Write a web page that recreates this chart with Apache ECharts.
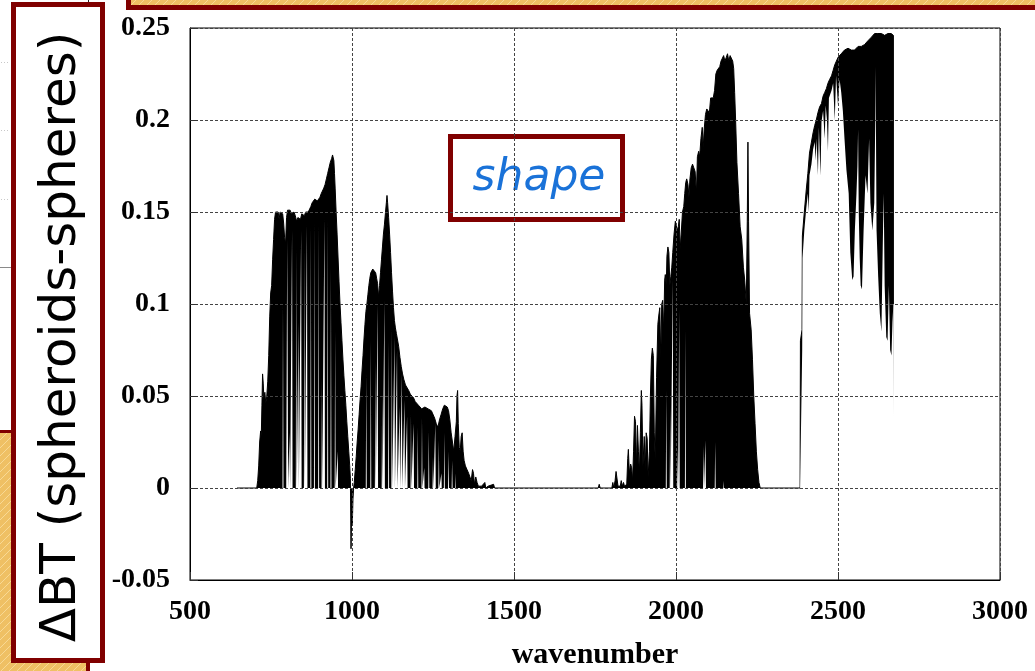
<!DOCTYPE html>
<html>
<head>
<meta charset="utf-8">
<script src="https://cdn.jsdelivr.net/npm/echarts@6/dist/echarts.min.js"></script>
<style>
  html, body { margin: 0; padding: 0; background: #fff; }
  #chart { width: 1035px; height: 671px; }
</style>
</head>
<body>
<div id="chart"></div>
<script>
// Brightness-temperature difference (spheroids minus spheres) across the infrared spectrum.

const xMin = 500, xMax = 3000, xStep = 500;
const yMin = -0.05, yMax = 0.25, yStep = 0.05;
const xTicks = ['500', '1000', '1500', '2000', '2500', '3000'];
const yTicks = ['-0.05', '0', '0.05', '0.1', '0.15', '0.2', '0.25'];

// Upper edge of the trace, [wavenumber, ΔBT]
const band1Upper = [
  [645,0],[706,0],[709,0.004],[712,0.012],[715,0.025],[718,0.031],[720,0.028],[722,0.045],[724,0.062],[726,0.057],
  [728,0.049],[731,0.052],[734,0.046],[737,0.05],[740,0.058],[743,0.072],[746,0.093],[749,0.106],[752,0.11],[755,0.124],
  [758,0.135],[761,0.146],[764,0.15],[768,0.151],[772,0.15],[775,0.146],[778,0.15],[782,0.151],[786,0.149],[789,0.144],
  [792,0.136],[795,0.133],[798,0.147],[801,0.151],[805,0.152],[809,0.151],[813,0.149],[817,0.148],[821,0.15],[825,0.148],
  [829,0.145],[833,0.147],[837,0.148],[841,0.146],[845,0.149],[849,0.15],[853,0.148],[857,0.15],[861,0.149],[865,0.15],
  [869,0.151],[873,0.153],[877,0.155],[881,0.154],[885,0.157],[889,0.157],[893,0.156],[897,0.157],[901,0.158],[905,0.16],
  [909,0.161],[913,0.163],[917,0.165],[921,0.168],[925,0.171],[929,0.174],[933,0.177],[937,0.179],[940,0.181],[942,0.182],
  [944,0.178],[946,0.171],[948,0.163],[951,0.15],[954,0.138],[957,0.125],[960,0.112],[963,0.1],[966,0.09],[969,0.08],
  [972,0.07],[975,0.061],[978,0.053],[981,0.045],[984,0.036],[987,0.028],[990,0.02],[993,0.012],[995,0.005],[997,-0.033],
  [999,-0.012],[1001,-0.02],[1003,-0.006],[1005,0]
];
const band2Upper = [
  [1007,0.003],[1010,0.01],[1013,0.017],[1016,0.025],[1019,0.032],[1022,0.04],[1025,0.048],[1028,0.055],[1031,0.064],[1034,0.072],
  [1037,0.081],[1040,0.089],[1043,0.096],[1046,0.1],[1049,0.105],[1052,0.11],[1055,0.114],[1058,0.117],[1061,0.118],[1064,0.119],
  [1067,0.12],[1070,0.118],[1073,0.117],[1076,0.114],[1079,0.111],[1082,0.104],[1085,0.11],[1088,0.117],[1091,0.124],[1094,0.131],
  [1097,0.138],[1100,0.143],[1103,0.149],[1106,0.155],[1108,0.159],[1110,0.155],[1113,0.147],[1116,0.138],[1119,0.128],[1122,0.117],
  [1125,0.107],[1128,0.098],[1131,0.091],[1134,0.087],[1137,0.084],[1140,0.081],[1144,0.077],[1148,0.071],[1152,0.066],[1156,0.062],
  [1160,0.059],[1165,0.056],[1170,0.055],[1175,0.053],[1180,0.051],[1185,0.05],[1190,0.049],[1195,0.047],[1200,0.046],[1205,0.045],
  [1210,0.044],[1215,0.043],[1220,0.042],[1225,0.044],[1230,0.045],[1235,0.043],[1240,0.044],[1245,0.042],[1250,0.041],[1255,0.038],
  [1260,0.035],[1265,0.033],[1270,0.037],[1275,0.04],[1280,0.043],[1285,0.045],[1290,0.046],[1294,0.044],[1298,0.042],[1302,0.037],
  [1306,0.03],[1310,0.025],[1314,0.02],[1318,0.028],[1322,0.036],[1324,0.05],[1326,0.053],[1328,0.035],[1331,0.022],[1334,0.02],
  [1337,0.028],[1340,0.03],[1343,0.02],[1346,0.015],[1350,0.012],[1355,0.01],[1360,0.008],[1365,0.007],[1368,0.004],[1372,0.01],
  [1375,0.008],[1378,0.002],[1382,0.006],[1386,0.003],[1390,0.001],[1395,0.002],[1400,0.001],[1405,0],[1410,0.003],[1413,0],
  [1420,0.001],[1425,0],[1437,0.002],[1440,0]
];
const band3Upper = [
  [1760,0],[1763,0.002],[1766,0],[1802,0],[1805,0.003],[1808,0],[1812,0.004],[1815,0.009],[1818,0.008],[1821,0.001],
  [1828,0.001],[1831,0.004],[1834,0.001],[1838,0.003],[1841,0.001],[1848,0.002],[1851,0.016],[1853,0.021],[1856,0.008],[1860,0.013],
  [1863,0.011],[1866,0.004],[1869,0.02],[1872,0.039],[1875,0.036],[1878,0.012],[1881,0.034],[1884,0.02],[1887,0.008],[1890,0.03],
  [1893,0.053],[1895,0.045],[1898,0.012],[1902,0.028],[1905,0.01],[1908,0.03],[1911,0.027],[1914,0.006],[1918,0.02],[1921,0.05],
  [1924,0.07],[1927,0.076],[1930,0.072],[1933,0.03],[1936,0.015],[1940,0.06],[1944,0.089],[1947,0.094],[1950,0.098],[1953,0.07],
  [1956,0.1],[1959,0.102],[1962,0.085],[1965,0.113],[1967,0.116],[1970,0.11],[1972,0.126],[1975,0.131],[1978,0.128],[1981,0.11],
  [1984,0.115],[1987,0.12],[1990,0.128],[1994,0.138],[1998,0.145],[2001,0.144],[2004,0.14],[2007,0.142],[2010,0.146],[2013,0.13],
  [2016,0.138],[2020,0.15],[2024,0.153],[2027,0.16],[2030,0.166],[2033,0.168],[2037,0.165],[2040,0.158],[2043,0.168],[2047,0.174],
  [2051,0.176],[2055,0.174],[2059,0.172],[2063,0.16],[2066,0.18],[2070,0.183],[2073,0.18],[2077,0.19],[2081,0.196],[2084,0.185],
  [2087,0.195],[2091,0.203],[2095,0.206],[2099,0.207],[2103,0.204],[2107,0.212],[2111,0.213],[2115,0.212],[2119,0.216],[2123,0.225],
  [2127,0.227],[2131,0.228],[2135,0.229],[2139,0.232],[2143,0.233],[2147,0.235],[2151,0.232],[2155,0.234],[2159,0.236],[2163,0.232],
  [2167,0.235],[2171,0.234],[2175,0.232],[2178,0.228],[2181,0.215],[2184,0.2],[2188,0.177],[2193,0.16],[2198,0.142],[2203,0.135],
  [2208,0.12],[2212,0.113],[2217,0.1],[2220,0.145],[2222,0.188],[2224,0.145],[2227,0.095],[2232,0.086],[2236,0.07],[2240,0.05],
  [2244,0.035],[2248,0.02],[2252,0.01],[2256,0.003],[2260,0]
];
const band4Upper = [
  [2383,0],[2384,0.08],[2389,0.086],[2390,0.137],[2396,0.15],[2402,0.162],[2407,0.171],[2412,0.182],[2418,0.188],
  [2423,0.193],[2428,0.197],[2433,0.2],[2438,0.204],[2443,0.207],[2449,0.209],[2454,0.213],[2459,0.215],[2464,0.217],[2469,0.22],
  [2474,0.222],[2480,0.224],[2485,0.227],[2490,0.23],[2495,0.232],[2500,0.234],[2505,0.235],[2510,0.236],[2515,0.237],[2520,0.238],
  [2526,0.238],[2531,0.239],[2536,0.238],[2541,0.238],[2546,0.237],[2551,0.238],[2557,0.239],[2562,0.24],[2567,0.241],[2572,0.24],
  [2577,0.24],[2582,0.241],[2587,0.242],[2592,0.243],[2598,0.244],[2603,0.245],[2608,0.246],[2613,0.247],[2618,0.248],[2623,0.247],
  [2629,0.246],[2634,0.247],[2639,0.247],[2644,0.246],[2649,0.247],[2654,0.247],[2659,0.247],[2664,0.247],[2668,0.247],[2671,0.246],
  [2671,0.1]
];

// Lower edge of the filled trace: open gaps reaching up from zero, [wavenumber, ΔBT]
const band1Lower = [
  [785.5,0],[787,0.1],[788.5,0],[797,0],[800,0.135],[803,0],[805,0],[807,0.03],[809,0],
  [813.5,0],[815,0.14],[816.5,0],[826.5,0],[828,0.13],[829.5,0],[834,0],[835,0.09],[836,0],
  [841.5,0],[843,0.14],[844.5,0],[851.5,0],[853,0.13],[854.5,0],[859.5,0],[861,0.143],[862.5,0],
  [871.5,0],[873,0.142],[874.5,0],[882.5,0],[884,0.144],[885.5,0],[895.5,0],[897,0.143],[898.5,0],
  [906,0],[907,0.06],[908,0],[913.5,0],[915,0.146],[916.5,0],[923.5,0],[925,0.145],[926.5,0],
  [933.5,0],[935,0.12],[936.5,0],[946.5,0],[948,0.085],[949.5,0],[955,0],[956,0.02],[957,0]
];
const band2Lower = [
  [1042.5,0],[1044,0.062],[1045.5,0],[1056.5,0],[1058,0.08],[1059.5,0],[1070.5,0],[1072,0.069],[1073.5,0],
  [1077.5,0],[1079,0.1],[1080.5,0],[1091.5,0],[1093,0.051],[1094.5,0],[1098.5,0],[1100,0.102],[1101.5,0],
  [1111.5,0],[1113,0.08],[1114.5,0],[1121.5,0],[1123,0.087],[1124.5,0],[1129.5,0],[1131,0.082],[1132.5,0],
  [1137.5,0],[1139,0.075],[1140.5,0],[1145.5,0],[1147,0.044],[1148.5,0],[1152.5,0],[1154,0.062],[1155.5,0],
  [1160.5,0],[1162,0.048],[1163.5,0],[1168.5,0],[1170,0.039],[1171.5,0],[1180.5,0],[1182,0.04],[1183.5,0],
  [1188.5,0],[1190,0.035],[1191.5,0],[1201.5,0],[1203,0.033],[1204.5,0],[1214.5,0],[1216,0.038],[1217.5,0],
  [1222,0],[1223,0.011],[1224,0],[1235.5,0],[1237,0.031],[1238.5,0],[1248.5,0],[1250,0.017],[1251.5,0],
  [1255.5,0],[1257,0.035],[1258.5,0],[1266.5,0],[1268,0.026],[1269.5,0],[1275,0],[1276,0.008],[1277,0],
  [1283.5,0],[1285,0.03],[1286.5,0],[1296.5,0],[1298,0.02],[1299.5,0],[1307.5,0],[1309,0.015],[1310.5,0],
  [1318,0],[1319,0.008],[1320,0]
];
const band3Lower = [
  [1968.5,0],[1970,0.053],[1971.5,0],[1980.5,0],[1982,0.044],[1983.5,0],[1988.5,0],[1990,0.113],[1991.5,0],
  [2003.5,0],[2005,0.022],[2006.5,0],[2008.5,0],[2010,0.097],[2011.5,0],[2027.5,0],[2029,0.086],[2030.5,0],
  [2083.5,0],[2085,0.023],[2086.5,0],[2089.5,0],[2091,0.026],[2092.5,0],[2119.5,0],[2121,0.025],[2122.5,0],
  [2145,0],[2146,0.004],[2147,0]
];
const band4Lower = [
  [2383,0],[2388.5,0],[2389.5,0.075],[2390.5,0.125],[2396,0.14],[2402,0.152],[2407,0.16],[2410,0.15],[2412,0.17],[2418,0.176],
  [2423,0.184],[2428,0.188],[2431,0.178],[2434,0.19],[2438,0.17],[2441,0.196],[2446,0.17],[2449,0.199],[2454,0.205],[2459,0.19],
  [2462,0.208],[2466,0.2],[2469,0.183],[2472,0.212],[2476,0.214],[2480,0.216],[2485,0.22],[2490,0.2],[2494,0.224],[2500,0.208],
  [2505,0.222],[2510,0.215],[2515,0.205],[2520,0.19],[2526,0.173],[2533,0.16],[2538,0.128],[2544,0.113],[2548,0.115],[2552,0.14],
  [2557,0.16],[2560,0.175],[2562,0.195],[2564,0.15],[2567,0.125],[2570,0.11],[2574,0.108],[2579,0.14],[2585,0.17],[2591,0.16],
  [2596,0.19],[2600,0.155],[2606,0.14],[2612,0.155],[2615,0.2],[2616,0.229],[2618,0.17],[2619,0.14],[2624,0.115],[2629,0.095],
  [2634,0.085],[2638,0.13],[2641,0.16],[2644,0.11],[2649,0.082],[2653,0.08],[2657,0.11],[2661,0.075],[2665,0.072],[2668,0.09],
  [2671,0.1],[2674,0.1]
];

const upperTrace = [].concat(band1Upper, band2Upper, band3Upper, band4Upper);
const lowerTrace = [].concat(band1Lower, band2Lower, band3Lower, band4Lower);

const serif = "'Liberation Serif', 'Times New Roman', serif";
const frameRed = '#800000';

// Warm hatched fill used by the slide panels
function hatchPattern() {
  const c = document.createElement('canvas');
  c.width = 8; c.height = 8;
  const g = c.getContext('2d');
  g.fillStyle = '#EFC064';
  g.fillRect(0, 0, 8, 8);
  g.strokeStyle = 'rgba(250,222,160,0.8)';
  g.lineWidth = 1;
  g.beginPath();
  g.moveTo(0, 8); g.lineTo(8, 0);
  g.stroke();
  return { image: c, repeat: 'repeat' };
}
const hatch = hatchPattern();

const chart = echarts.init(document.getElementById('chart'), null, { renderer: 'canvas' });

chart.setOption({
  animation: false,
  backgroundColor: '#fff',
  grid: {
    left: 190, right: 35, top: 28, bottom: 91,
    show: true, borderColor: '#000', borderWidth: 1, backgroundColor: 'transparent',
    z: 10, outerBoundsMode: 'none', containLabel: false
  },
  xAxis: {
    type: 'value', min: xMin, max: xMax, interval: xStep, z: 10,
    name: 'wavenumber', nameLocation: 'middle', nameGap: 60,
    nameTextStyle: { fontFamily: serif, fontWeight: 'bold', fontSize: 30, color: '#000' },
    axisLine: { show: true, onZero: false, lineStyle: { color: '#000', width: 1 } },
    axisTick: { show: true, inside: true, length: 8, lineStyle: { color: '#333', width: 1 } },
    axisLabel: {
      margin: 18, fontFamily: serif, fontWeight: 'bold', fontSize: 28, color: '#000',
      formatter: v => xTicks[Math.round((v - xMin) / xStep)]
    },
    splitLine: { show: true, lineStyle: { color: '#444', width: 1, type: [3, 2] } }
  },
  yAxis: {
    type: 'value', min: yMin, max: yMax, interval: yStep, z: 10,
    axisLine: { show: true, onZero: false, lineStyle: { color: '#000', width: 1 } },
    axisTick: { show: true, inside: true, length: 8, lineStyle: { color: '#333', width: 1 } },
    axisLabel: {
      margin: 20, fontFamily: serif, fontWeight: 'bold', fontSize: 28, color: '#000',
      formatter: v => yTicks[Math.round((v - yMin) / yStep)]
    },
    splitLine: { show: true, lineStyle: { color: '#444', width: 1, type: [3, 2] } }
  },
  series: [
    {
      name: 'ΔBT', type: 'line', data: upperTrace, z: 2,
      showSymbol: false, symbol: 'none', smooth: false, silent: true,
      lineStyle: { color: '#000', width: 1 },
      areaStyle: { color: '#000', opacity: 1 }
    },
    {
      name: 'open', type: 'line', data: lowerTrace, z: 3,
      showSymbol: false, symbol: 'none', smooth: false, silent: true,
      lineStyle: { width: 0, opacity: 0 },
      areaStyle: { color: '#fff', opacity: 1 }
    }
  ],
  graphic: [
    // backdrop panel lower left
    { type: 'rect', z: 1, shape: { x: 0, y: 430, width: 90, height: 241 }, style: { fill: frameRed } },
    { type: 'rect', z: 1, shape: { x: 0, y: 433, width: 86, height: 238 }, style: { fill: hatch } },
    // faint rules at the left edge
    { type: 'line', z: 1, shape: { x1: 0, y1: 267.5, x2: 11, y2: 267.5 }, style: { stroke: '#8a8a8a', lineWidth: 1 } },
    { type: 'line', z: 1, shape: { x1: 1, y1: 62.5, x2: 10, y2: 62.5 }, style: { stroke: '#c8c8c8', lineWidth: 1, lineDash: [1, 2] } },
    { type: 'line', z: 1, shape: { x1: 1, y1: 130.5, x2: 10, y2: 130.5 }, style: { stroke: '#c8c8c8', lineWidth: 1, lineDash: [1, 2] } },
    { type: 'line', z: 1, shape: { x1: 1, y1: 199.5, x2: 10, y2: 199.5 }, style: { stroke: '#c8c8c8', lineWidth: 1, lineDash: [1, 2] } },
    { type: 'line', z: 1, shape: { x1: 88.5, y1: 0, x2: 88.5, y2: 3 }, style: { stroke: '#222', lineWidth: 1 } },
    // top banner strip
    { type: 'rect', z: 1, shape: { x: 126, y: 0, width: 909, height: 10 }, style: { fill: frameRed } },
    { type: 'rect', z: 1, shape: { x: 131, y: 0, width: 904, height: 5 }, style: { fill: hatch } },
    // axis-title panel
    { type: 'rect', z: 1, shape: { x: 13.5, y: 4.5, width: 89, height: 656 }, style: { fill: '#fff', stroke: frameRed, lineWidth: 5 } },
    {
      type: 'text', z: 2, x: 62, y: 337, rotation: Math.PI / 2,
      style: {
        text: 'ΔBT (spheroids-spheres)', fontFamily: "'DejaVu Sans', sans-serif", fontSize: 50,
        fill: '#000', align: 'center', verticalAlign: 'middle'
      }
    },
    // annotation box
    { type: 'rect', z: 1, shape: { x: 450.5, y: 136.5, width: 172, height: 83 }, style: { fill: 'transparent', stroke: frameRed, lineWidth: 5 } },
    {
      type: 'text', z: 1, x: 539, y: 179,
      style: {
        text: 'shape', fontFamily: "'DejaVu Sans', sans-serif", fontStyle: 'italic', fontSize: 44,
        fill: '#1a72d8', align: 'center', verticalAlign: 'middle'
      }
    }
  ]
});
</script>
</body>
</html>
